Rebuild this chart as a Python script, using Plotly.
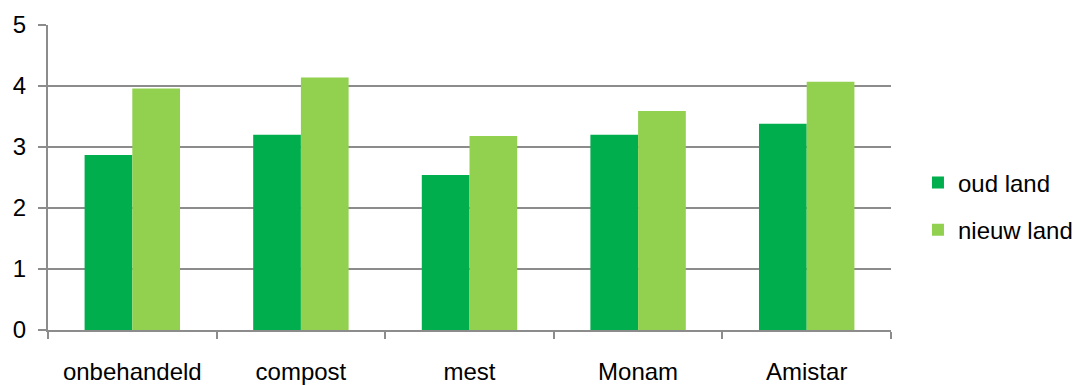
import plotly.graph_objects as go

categories = ["onbehandeld", "compost", "mest", "Monam", "Amistar"]
oud_land = [2.87, 3.20, 2.54, 3.20, 3.38]
nieuw_land = [3.96, 4.14, 3.18, 3.59, 4.07]
y_ticks = [0, 1, 2, 3, 4, 5]

FONT = "Liberation Sans"
GRID = "#8c8c8c"

fig = go.Figure()
fig.add_trace(go.Bar(x=categories, y=oud_land, name="oud land",
                     marker=dict(color="#00AE4D", line=dict(width=0)),
                     legendgroup="a"))
fig.add_trace(go.Bar(x=categories, y=nieuw_land, name="nieuw land",
                     marker=dict(color="#92D050", line=dict(width=0)),
                     legendgroup="b"))

fig.update_layout(
    width=1075, height=385,
    margin=dict(l=48, r=184, t=25, b=55, autoexpand=False),
    paper_bgcolor="white", plot_bgcolor="white",
    barmode="group", bargap=0.434, bargroupgap=0,
    font=dict(family=FONT, size=24, color="black"),
    legend=dict(x=1.032, y=0.405, xanchor="left", yanchor="middle",
                tracegroupgap=13, font=dict(size=24), bgcolor="rgba(0,0,0,0)"),
    showlegend=True,
)
fig.update_xaxes(
    automargin=False,
    showline=True, linecolor=GRID, linewidth=2,
    ticks="outside", tickson="boundaries", ticklen=7, tickcolor=GRID, tickwidth=2,
    showgrid=False, ticklabelstandoff=19,
)
fig.update_yaxes(
    automargin=False,
    range=[0, 5], tickvals=y_ticks,
    showline=True, linecolor=GRID, linewidth=2,
    ticks="outside", ticklen=8, tickcolor=GRID, tickwidth=2,
    showgrid=True, gridcolor=GRID, gridwidth=2,
    zeroline=False, ticklabelstandoff=7,
)

fig.write_html("out.html")
